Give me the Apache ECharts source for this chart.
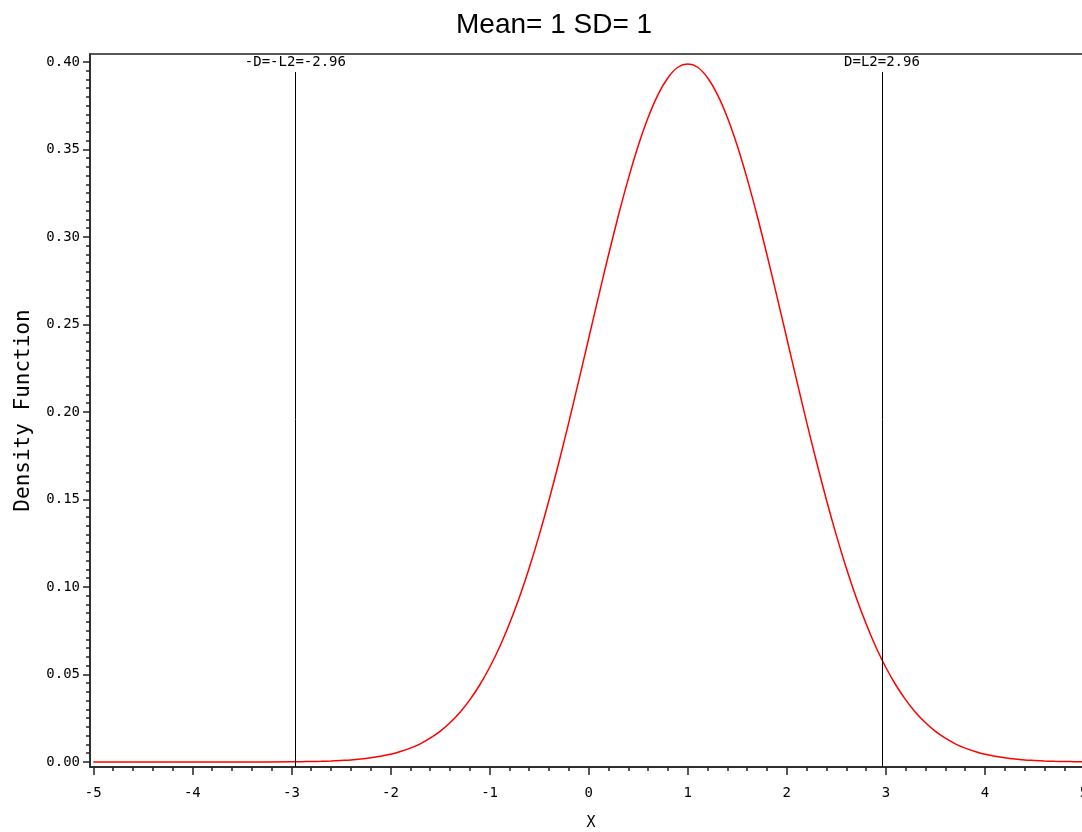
<!DOCTYPE html>
<html>
<head>
<meta charset="utf-8">
<script src="https://cdn.jsdelivr.net/npm/echarts@6/dist/echarts.min.js"></script>
<style>html,body{margin:0;padding:0;background:#fff;}#chart{width:1082px;height:832px;}</style>
</head>
<body>
<div id="chart"></div>
<script>
// Data
var xValues = [-5.0, -4.0, -3.5, -3.0, -2.9, -2.8, -2.7, -2.6, -2.5, -2.4, -2.3, -2.2, -2.1, -2.0, -1.9, -1.8, -1.7, -1.6, -1.5, -1.4, -1.3, -1.2, -1.1, -1.0, -0.9, -0.8, -0.7, -0.6, -0.5, -0.4, -0.3, -0.2, -0.1, 0.0, 0.1, 0.2, 0.3, 0.4, 0.5, 0.6, 0.7, 0.8, 0.9, 1.0, 1.1, 1.2, 1.3, 1.4, 1.5, 1.6, 1.7, 1.8, 1.9, 2.0, 2.1, 2.2, 2.3, 2.4, 2.5, 2.6, 2.7, 2.8, 2.9, 3.0, 3.1, 3.2, 3.3, 3.4, 3.5, 3.6, 3.7, 3.8, 3.9, 4.0, 4.1, 4.2, 4.3, 4.4, 4.5, 4.6, 4.7, 4.8, 4.9, 5.0];
var density = [0.0000, 0.0000, 0.0000, 0.0001, 0.0002, 0.0003, 0.0004, 0.0006, 0.0009, 0.0012, 0.0017, 0.0024, 0.0033, 0.0044, 0.0060, 0.0079, 0.0104, 0.0136, 0.0175, 0.0224, 0.0283, 0.0355, 0.0440, 0.0540, 0.0656, 0.0790, 0.0940, 0.1109, 0.1295, 0.1497, 0.1714, 0.1942, 0.2179, 0.2420, 0.2661, 0.2897, 0.3123, 0.3332, 0.3521, 0.3683, 0.3814, 0.3910, 0.3970, 0.3989, 0.3970, 0.3910, 0.3814, 0.3683, 0.3521, 0.3332, 0.3123, 0.2897, 0.2661, 0.2420, 0.2179, 0.1942, 0.1714, 0.1497, 0.1295, 0.1109, 0.0940, 0.0790, 0.0656, 0.0540, 0.0440, 0.0355, 0.0283, 0.0224, 0.0175, 0.0136, 0.0104, 0.0079, 0.0060, 0.0044, 0.0033, 0.0024, 0.0017, 0.0012, 0.0009, 0.0006, 0.0004, 0.0003, 0.0002, 0.0001];
var xTicks = [-5, -4, -3, -2, -1, 0, 1, 2, 3, 4, 5];
var yTicks = [0.00, 0.05, 0.10, 0.15, 0.20, 0.25, 0.30, 0.35, 0.40];
var refLines = [-2.96, 2.96];
var refLabels = ['-D=-L2=-2.96', 'D=L2=2.96'];
var refTop = 0.3943;
var xRange = [-5.033, 5.080];
var yRange = [-0.00286, 0.40457];

var xMinor = [];
for (var i = 0; i < xTicks.length - 1; i++) { for (var k = 1; k < 5; k++) xMinor.push(+(xTicks[i] + k * 0.2).toFixed(2)); }
var yMinor = [];
for (var j = 0; j < yTicks.length - 1; j++) { for (var m = 1; m < 10; m++) yMinor.push(+(yTicks[j] + m * 0.005).toFixed(3)); }

var mono = 'DejaVu Sans Mono';
var axisCol = '#222';

var chart = echarts.init(document.getElementById('chart'), null, {renderer: 'canvas'});
chart.setOption({
  backgroundColor: '#fff',
  animation: false,
  title: {
    text: 'Mean= 1 SD= 1', left: 451, top: 6,
    textStyle: {fontFamily: 'Liberation Sans', fontSize: 28, fontWeight: 'normal', color: '#000'}
  },
  grid: {left: 90, right: -10, top: 54, bottom: 65, outerBoundsMode: 'none', containLabel: false,
    show: true, borderColor: axisCol, borderWidth: 1.5, backgroundColor: 'transparent'},
  xAxis: [{
    type: 'value', min: xRange[0], max: xRange[1], gridIndex: 0, position: 'bottom',
    name: 'X', nameLocation: 'middle', nameGap: 49,
    nameTextStyle: {fontFamily: mono, fontSize: 15, color: '#000'},
    splitLine: {show: false},
    axisLine: {show: true, onZero: false, lineStyle: {color: axisCol, width: 1.5}},
    axisTick: {show: true, customValues: xTicks, length: 8, lineStyle: {color: axisCol, width: 1.5}},
    axisLabel: {show: true, customValues: xTicks, margin: 19, fontFamily: mono, fontSize: 14, color: '#000',
      formatter: function (v) { return String(Math.round(v)); }}
  }, {
    type: 'value', min: xRange[0], max: xRange[1], gridIndex: 0, position: 'bottom',
    splitLine: {show: false},
    axisLine: {show: false, onZero: false},
    axisTick: {show: true, customValues: xMinor, length: 4, lineStyle: {color: axisCol, width: 1.5}},
    axisLabel: {show: false}
  }],
  yAxis: [{
    type: 'value', min: yRange[0], max: yRange[1], position: 'left',
    name: 'Density Function', nameLocation: 'middle', nameRotate: 90, nameGap: 56,
    nameTextStyle: {fontFamily: mono, fontSize: 21, color: '#000'},
    splitLine: {show: false},
    axisLine: {show: true, onZero: false, lineStyle: {color: axisCol, width: 1.5}},
    axisTick: {show: true, customValues: yTicks, length: 7, lineStyle: {color: axisCol, width: 1.5}},
    axisLabel: {show: true, customValues: yTicks, margin: 10, fontFamily: mono, fontSize: 14, color: '#000',
      formatter: function (v) { return v.toFixed(2); }}
  }, {
    type: 'value', min: yRange[0], max: yRange[1], position: 'left',
    splitLine: {show: false},
    axisLine: {show: false, onZero: false},
    axisTick: {show: true, customValues: yMinor, length: 4, lineStyle: {color: axisCol, width: 1.5}},
    axisLabel: {show: false}
  }],
  series: [{
    type: 'line', xAxisIndex: 0, yAxisIndex: 0,
    data: xValues.map(function (x, i) { return [x, density[i]]; }),
    showSymbol: false, smooth: 0.3, clip: true,
    lineStyle: {color: '#ff0000', width: 1.5},
    itemStyle: {color: '#ff0000'},
    markLine: {
      silent: true, symbol: 'none', animation: false,
      lineStyle: {color: '#000', width: 1, type: 'solid'},
      label: {show: true, position: 'end', distance: 3, fontFamily: mono, fontSize: 14, color: '#000'},
      data: refLines.map(function (x, i) {
        return [{coord: [x, yRange[0]]}, {coord: [x, refTop], label: {formatter: refLabels[i]}}];
      })
    }
  }]
});
</script>
</body>
</html>
